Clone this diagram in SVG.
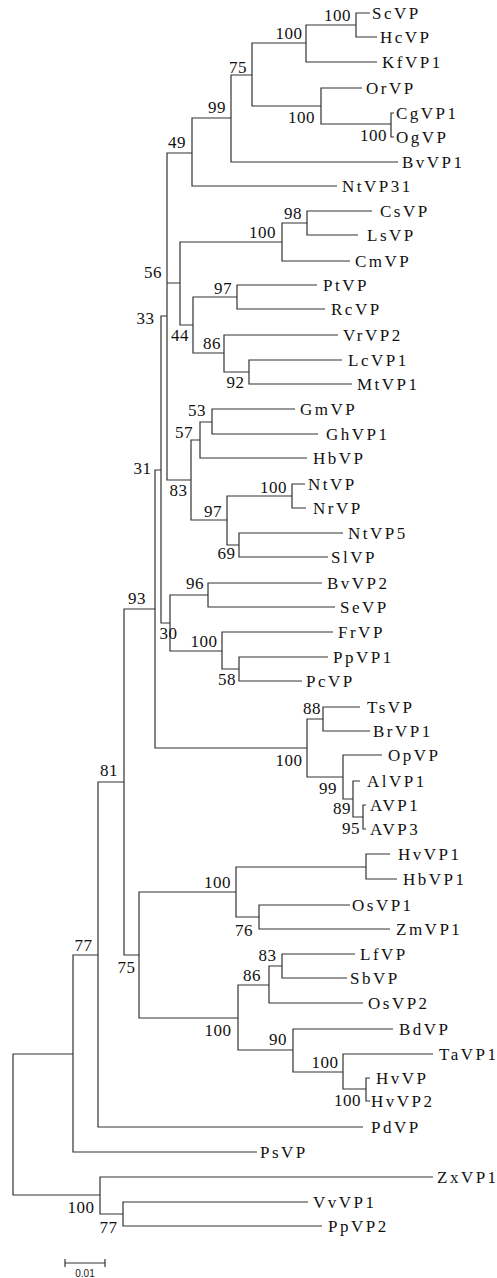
<svg xmlns="http://www.w3.org/2000/svg" width="497" height="1278" viewBox="0 0 497 1278">
<style>
.e{fill:none;stroke:#333;stroke-width:1.2}
.t{font-family:"Liberation Serif","Times New Roman",serif;font-size:17px;fill:#111;letter-spacing:2.5px}
.s{font-family:"Liberation Serif","Times New Roman",serif;font-size:17px;fill:#111;text-anchor:middle;letter-spacing:0.5px}
.sc{font-family:"Liberation Sans",Arial,sans-serif;font-size:10px;fill:#222;text-anchor:middle}
</style>
<rect width="497" height="1278" fill="#fff"/>
<g id="connectors">
<path class="e" d="M73 1054 H13 V1195 H100"/>
<path class="e" d="M98 955 H73 V1152 H257"/>
<path class="e" d="M124 782 H98 V1127 H363"/>
<path class="e" d="M155 609 H124 V955 H139"/>
<path class="e" d="M161 470 H155 V748 H307"/>
<path class="e" d="M167 316 H161 V623 H170"/>
<path class="e" d="M192 153 H167 V480 H191 M167 283 H180"/>
<path class="e" d="M231 118 H192 V186 H337"/>
<path class="e" d="M252 75 H231 V162 H398"/>
<path class="e" d="M306 43 H252 V106 H321"/>
<path class="e" d="M356 25 H306 V62 H377"/>
<path class="e" d="M370 13 H356 V37 H377"/>
<path class="e" d="M362 88 H321 V124 H391"/>
<path class="e" d="M394 113 H391 V137 H394"/>
<path class="e" d="M282 242 H180 V325 H193"/>
<path class="e" d="M307 223 H282 V261 H350"/>
<path class="e" d="M372 211 H307 V235 H358"/>
<path class="e" d="M237 297 H193 V353 H224"/>
<path class="e" d="M317 285 H237 V309 H325"/>
<path class="e" d="M338 335 H224 V372 H249"/>
<path class="e" d="M342 360 H249 V384 H352"/>
<path class="e" d="M200 440 H191 V520 H227"/>
<path class="e" d="M212 422 H200 V458 H307"/>
<path class="e" d="M295 409 H212 V434 H318"/>
<path class="e" d="M292 496 H227 V545 H239"/>
<path class="e" d="M305 484 H292 V508 H306"/>
<path class="e" d="M343 533 H239 V557 H328"/>
<path class="e" d="M208 595 H170 V651 H222"/>
<path class="e" d="M322 583 H208 V607 H335"/>
<path class="e" d="M333 632 H222 V669 H239"/>
<path class="e" d="M328 657 H239 V681 H302"/>
<path class="e" d="M323 719 H307 V777 H343"/>
<path class="e" d="M360 707 H323 V731 H370"/>
<path class="e" d="M382 755 H343 V799 H353"/>
<path class="e" d="M360 781 H353 V817 H363"/>
<path class="e" d="M366 805 H363 V829 H366"/>
<path class="e" d="M236 892 H139 V1018 H238"/>
<path class="e" d="M366 867 H236 V917 H259"/>
<path class="e" d="M390 854 H366 V879 H397"/>
<path class="e" d="M350 905 H259 V929 H390"/>
<path class="e" d="M269 985 H238 V1050 H293"/>
<path class="e" d="M282 966 H269 V1003 H363"/>
<path class="e" d="M355 954 H282 V978 H347"/>
<path class="e" d="M393 1029 H293 V1072 H343"/>
<path class="e" d="M433 1054 H343 V1089 H366"/>
<path class="e" d="M370 1078 H366 V1101 H370"/>
<path class="e" d="M433 1177 H100 V1214 H123"/>
<path class="e" d="M308 1202 H123 V1226 H322"/>
</g>
<g id="tips">
<g id="ScVP"><text class="t" x="372" y="19">ScVP</text></g>
<g id="HcVP"><text class="t" x="380" y="43">HcVP</text></g>
<g id="KfVP1"><text class="t" x="382" y="68">KfVP1</text></g>
<g id="OrVP"><text class="t" x="366" y="94">OrVP</text></g>
<g id="CgVP1"><text class="t" x="396" y="119">CgVP1</text></g>
<g id="OgVP"><text class="t" x="396" y="143">OgVP</text></g>
<g id="BvVP1"><text class="t" x="402" y="168">BvVP1</text></g>
<g id="NtVP31"><text class="t" x="342" y="192">NtVP31</text></g>
<g id="CsVP"><text class="t" x="380" y="217">CsVP</text></g>
<g id="LsVP"><text class="t" x="367" y="241">LsVP</text></g>
<g id="CmVP"><text class="t" x="355" y="267">CmVP</text></g>
<g id="PtVP"><text class="t" x="323" y="291">PtVP</text></g>
<g id="RcVP"><text class="t" x="331" y="315">RcVP</text></g>
<g id="VrVP2"><text class="t" x="343" y="341">VrVP2</text></g>
<g id="LcVP1"><text class="t" x="348" y="366">LcVP1</text></g>
<g id="MtVP1"><text class="t" x="357" y="390">MtVP1</text></g>
<g id="GmVP"><text class="t" x="300" y="415">GmVP</text></g>
<g id="GhVP1"><text class="t" x="326" y="440">GhVP1</text></g>
<g id="HbVP"><text class="t" x="313" y="464">HbVP</text></g>
<g id="NtVP"><text class="t" x="308" y="490">NtVP</text></g>
<g id="NrVP"><text class="t" x="313" y="514">NrVP</text></g>
<g id="NtVP5"><text class="t" x="348" y="539">NtVP5</text></g>
<g id="SlVP"><text class="t" x="331" y="563">SlVP</text></g>
<g id="BvVP2"><text class="t" x="327" y="589">BvVP2</text></g>
<g id="SeVP"><text class="t" x="340" y="613">SeVP</text></g>
<g id="FrVP"><text class="t" x="338" y="638">FrVP</text></g>
<g id="PpVP1"><text class="t" x="333" y="663">PpVP1</text></g>
<g id="PcVP"><text class="t" x="306" y="687">PcVP</text></g>
<g id="TsVP"><text class="t" x="367" y="713">TsVP</text></g>
<g id="BrVP1"><text class="t" x="373" y="737">BrVP1</text></g>
<g id="OpVP"><text class="t" x="388" y="761">OpVP</text></g>
<g id="AlVP1"><text class="t" x="367" y="787">AlVP1</text></g>
<g id="AVP1"><text class="t" x="370" y="811">AVP1</text></g>
<g id="AVP3"><text class="t" x="370" y="835">AVP3</text></g>
<g id="HvVP1"><text class="t" x="398" y="860">HvVP1</text></g>
<g id="HbVP1"><text class="t" x="403" y="885">HbVP1</text></g>
<g id="OsVP1"><text class="t" x="352" y="911">OsVP1</text></g>
<g id="ZmVP1"><text class="t" x="396" y="935">ZmVP1</text></g>
<g id="LfVP"><text class="t" x="360" y="960">LfVP</text></g>
<g id="SbVP"><text class="t" x="350" y="984">SbVP</text></g>
<g id="OsVP2"><text class="t" x="368" y="1009">OsVP2</text></g>
<g id="BdVP"><text class="t" x="399" y="1035">BdVP</text></g>
<g id="TaVP1"><text class="t" x="439" y="1060">TaVP1</text></g>
<g id="HvVP"><text class="t" x="376" y="1084">HvVP</text></g>
<g id="HvVP2"><text class="t" x="371" y="1107">HvVP2</text></g>
<g id="PdVP"><text class="t" x="371" y="1133">PdVP</text></g>
<g id="PsVP"><text class="t" x="260" y="1158">PsVP</text></g>
<g id="ZxVP1"><text class="t" x="437" y="1183">ZxVP1</text></g>
<g id="VvVP1"><text class="t" x="313" y="1208">VvVP1</text></g>
<g id="PpVP2"><text class="t" x="328" y="1232">PpVP2</text></g>
</g>
<g id="support">
<text class="s" x="337.5" y="21">100</text>
<text class="s" x="289" y="39">100</text>
<text class="s" x="238" y="73">75</text>
<text class="s" x="217" y="113">99</text>
<text class="s" x="301.5" y="123">100</text>
<text class="s" x="373.5" y="141">100</text>
<text class="s" x="177" y="148">49</text>
<text class="s" x="293" y="219">98</text>
<text class="s" x="262.5" y="238">100</text>
<text class="s" x="153" y="278">56</text>
<text class="s" x="223" y="294">97</text>
<text class="s" x="145.5" y="324">33</text>
<text class="s" x="180" y="341">44</text>
<text class="s" x="212" y="349">86</text>
<text class="s" x="235.5" y="388">92</text>
<text class="s" x="197" y="416">53</text>
<text class="s" x="184" y="438">57</text>
<text class="s" x="142.5" y="474">31</text>
<text class="s" x="273.5" y="493">100</text>
<text class="s" x="178.5" y="496">83</text>
<text class="s" x="213" y="517">97</text>
<text class="s" x="226.5" y="559">69</text>
<text class="s" x="195" y="589">96</text>
<text class="s" x="137" y="604">93</text>
<text class="s" x="168.5" y="639">30</text>
<text class="s" x="204" y="647">100</text>
<text class="s" x="227" y="685">58</text>
<text class="s" x="312" y="714">88</text>
<text class="s" x="289" y="766">100</text>
<text class="s" x="109" y="776">81</text>
<text class="s" x="328" y="794">99</text>
<text class="s" x="342" y="814">89</text>
<text class="s" x="351" y="834">95</text>
<text class="s" x="217.5" y="888">100</text>
<text class="s" x="244" y="936">76</text>
<text class="s" x="83.5" y="951">77</text>
<text class="s" x="267.5" y="961">83</text>
<text class="s" x="126.5" y="973">75</text>
<text class="s" x="252" y="981">86</text>
<text class="s" x="218" y="1036">100</text>
<text class="s" x="278" y="1045">90</text>
<text class="s" x="325" y="1068">100</text>
<text class="s" x="347.5" y="1106">100</text>
<text class="s" x="81" y="1213">100</text>
<text class="s" x="108.5" y="1233">77</text>
</g>
<g id="scale">
<path class="e" d="M65 1263 H105 M65 1259 V1267 M105 1259 V1267"/>
<text class="sc" x="85" y="1277">0.01</text>
</g>
</svg>
